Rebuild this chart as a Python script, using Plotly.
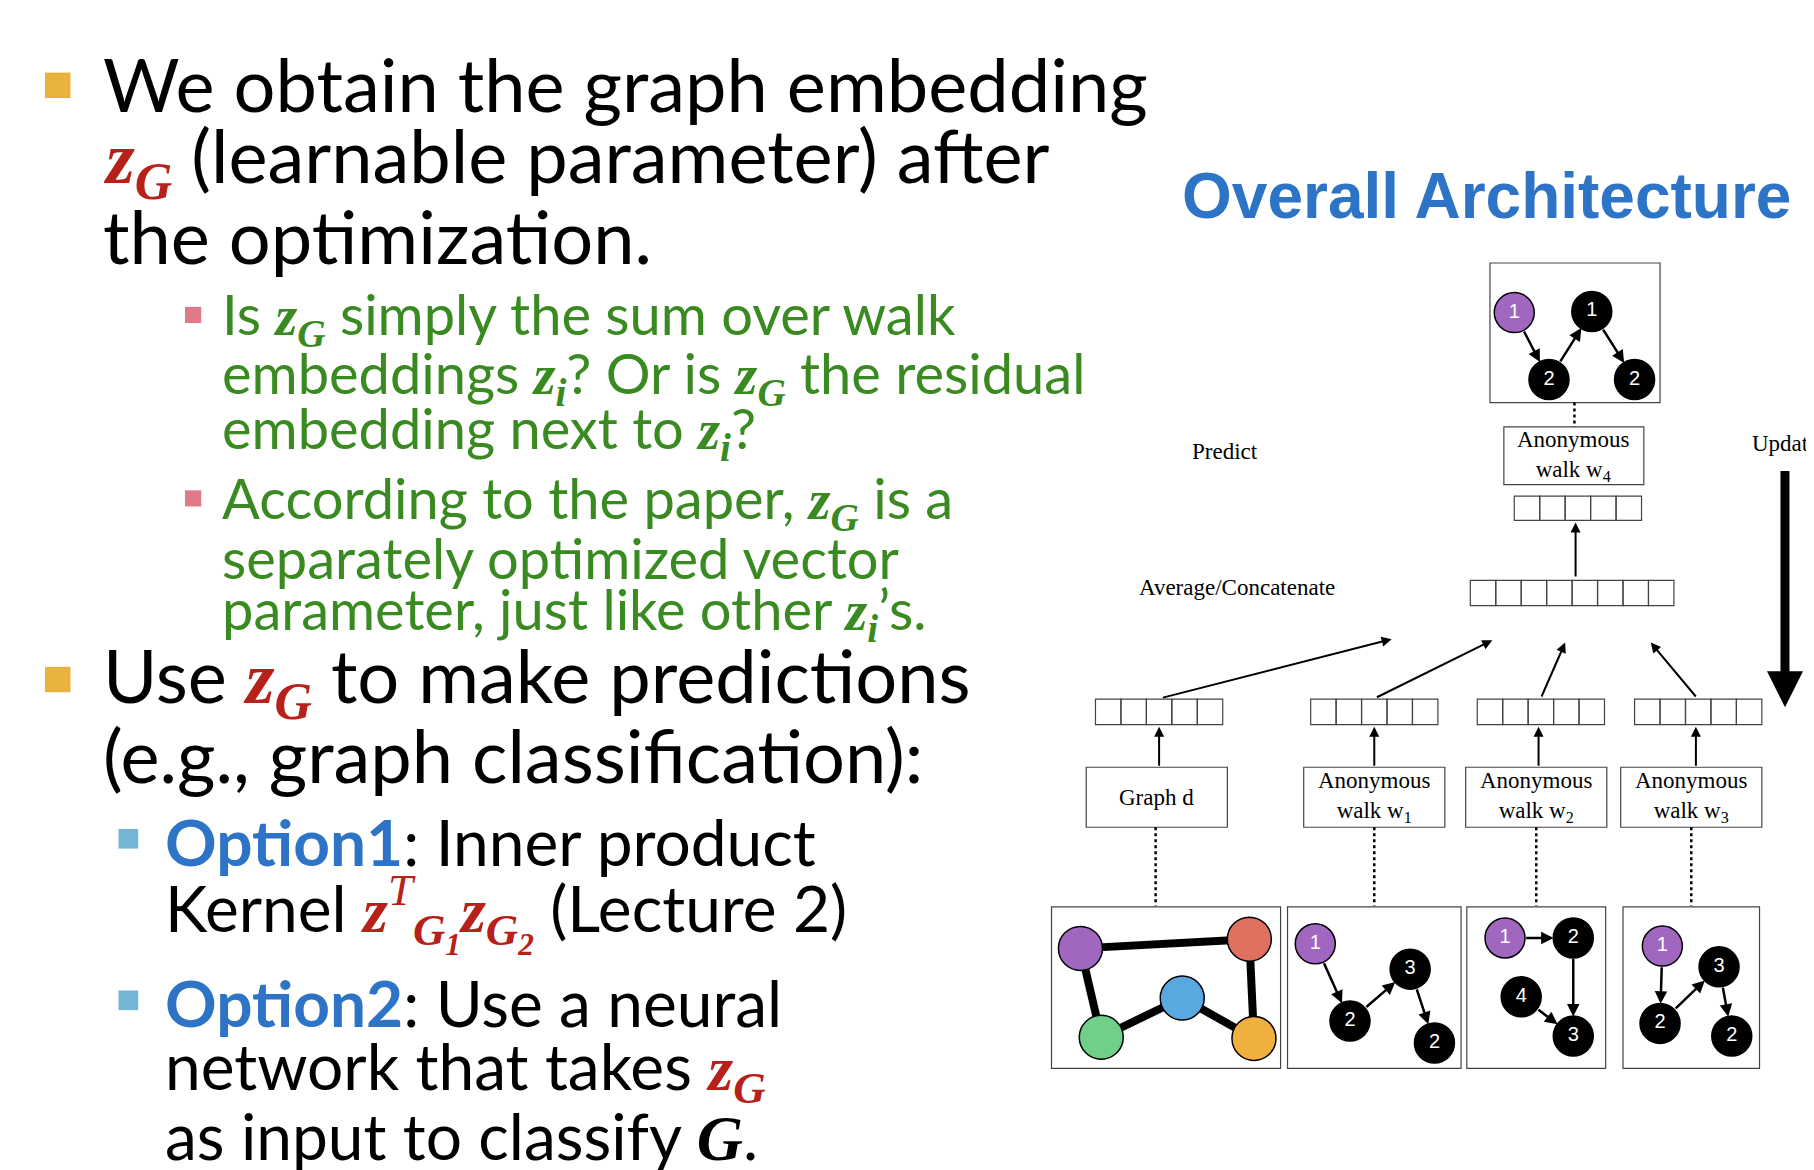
import plotly.graph_objects as go

# ---- slide text (x, y in slide units, text) ----
RED = "#B8201A"
GREEN = "#3A8A22"
BLUE = "#2E74C6"
SANS = "Lato"
MATH = "Liberation Serif"


def z(sub, color=RED, sup=""):
    s = f"<span style='font-family:{MATH};color:{color}'><b><i>z</i></b>"
    if sup:
        s += f"<sup><i>{sup}</i></sup>"
    return s + f"<sub><b><i>{sub}</i></b></sub></span>"


main_lines = [
    (80, 65, "We obtain the graph embedding"),
    (80, 132, z("G") + " (learnable parameter) after"),
    (80, 197, "the optimization."),
    (80, 582, "Use " + z("G") + " to make predictions"),
    (80, 647, "(e.g., graph classification):"),
]
green_lines = [
    (183, 268, "Is " + z("G", GREEN) + " simply the sum over walk"),
    (183, 319, "embeddings " + z("i", GREEN) + "? Or is " + z("G", GREEN) + " the residual"),
    (183, 367, "embedding next to " + z("i", GREEN) + "?"),
    (183, 428, "According to the paper, " + z("G", GREEN) + " is a"),
    (183, 476, "separately optimized vector"),
    (183, 524, "parameter, just like other " + z("i", GREEN) + "\u2019s."),
]
option_lines = [
    (134, 722, f"<b><span style='color:{BLUE}'>Option1</span></b>: Inner product"),
    (134, 785, "Kernel " + z("G<sub>1</sub>", sup="T") + z("G<sub>2</sub>") + " (Lecture 2)"),
    (134, 862, f"<b><span style='color:{BLUE}'>Option2</span></b>: Use a neural"),
    (134, 920, "network that takes " + z("G")),
    (134, 977, f"as input to classify <span style='font-family:{MATH}'><b><i>G</i></b></span>."),
]
bullets = [(43, 67, "#E8B23C", 22), (43, 582, "#E8B23C", 22),
           (160, 266, "#E07A88", 14), (160, 425, "#E07A88", 14),
           (104, 720, "#74B4D4", 17), (104, 860, "#74B4D4", 17)]

# ---- diagram ----
label_boxes = [  # x0, x1, y0, y1, label
    (1293, 1414, 363, 413, "Anonymous<br>walk w<sub>4</sub>"),
    (932, 1054, 658, 710, "Graph d"),
    (1120, 1242, 658, 710, "Anonymous<br>walk w<sub>1</sub>"),
    (1260, 1382, 658, 710, "Anonymous<br>walk w<sub>2</sub>"),
    (1394, 1516, 658, 710, "Anonymous<br>walk w<sub>3</sub>"),
]
vectors = [  # x0, x1, y0, y1, cells
    (1302, 1412, 423, 444, 5), (1264, 1440, 496, 518, 8),
    (940, 1050, 599, 621, 5), (1126, 1236, 599, 621, 5),
    (1270, 1380, 599, 621, 5), (1406, 1516, 599, 621, 5),
]
panels = [(1281, 1428, 221, 342), (902, 1100, 779, 919), (1106, 1256, 779, 919),
          (1261, 1381, 779, 919), (1396, 1514, 779, 919)]  # x0, x1, y0, y1
dotted = [(1354, 342, 363), (992, 710, 778), (1181, 710, 778), (1321, 710, 778), (1455, 710, 778)]
arrows = [  # tail x, y, head x, y
    (1355, 494, 1355, 446), (997, 598, 1196, 547), (1182, 598, 1283, 548),
    (1325, 598, 1346, 550), (1460, 598, 1420, 550),
    (995, 658, 995, 623), (1181, 658, 1181, 623), (1323, 658, 1323, 623), (1459, 658, 1459, 623),
]
# walk graphs: nodes (x, y, color, label) and directed edges
PUR, BLK = "#A167C0", "#000000"
walks = [
    ([(1302, 264, PUR, "1"), (1369, 263, BLK, "1"), (1332, 322, BLK, "2"), (1406, 322, BLK, "2")],
     [(0, 2), (2, 1), (1, 3)]),
    ([(1130, 811, PUR, "1"), (1212, 833, BLK, "3"), (1160, 878, BLK, "2"), (1233, 897, BLK, "2")],
     [(0, 2), (2, 1), (1, 3)]),
    ([(1294, 806, PUR, "1"), (1353, 806, BLK, "2"), (1353, 891, BLK, "3"), (1308, 857, BLK, "4")],
     [(0, 1), (1, 2), (3, 2)]),
    ([(1430, 813, PUR, "1"), (1479, 831, BLK, "3"), (1428, 880, BLK, "2"), (1490, 891, BLK, "2")],
     [(0, 2), (2, 1), (1, 3)]),
]
g_nodes = [(927, 815, "#A167C0"), (1073, 807, "#E07060"), (1015, 858, "#5AA8E0"),
           (945, 892, "#70D08A"), (1077, 893, "#F0B040")]
g_edges = [(0, 1), (0, 3), (3, 2), (2, 4), (1, 4)]

fig = go.Figure()
shapes, anns = [], []

for x, y, c, s in bullets:
    shapes.append(dict(type="rect", x0=x - s / 2, x1=x + s / 2, y0=y - s / 2, y1=y + s / 2,
                       fillcolor=c, line_width=0))
for lines, size, color in [(main_lines, 74, "#000"), (green_lines, 56, GREEN), (option_lines, 64, "#000")]:
    for x, y, t in lines:
        anns.append(dict(x=x, y=y, text=t, xanchor="left", yanchor="middle", showarrow=False,
                         font=dict(family=SANS, size=size, color=color)))

anns.append(dict(x=1278, y=163, text="<b>Overall Architecture</b>", showarrow=False,
                 font=dict(family="Liberation Sans", size=64, color=BLUE)))
serif = dict(family=MATH, size=23, color="#000")
for x, y, t in [(1052, 384, "Predict"), (1062, 502, "Average/Concatenate")]:
    anns.append(dict(x=x, y=y, text=t, showarrow=False, font=serif))
anns.append(dict(x=1566, y=377, text="Update", xanchor="right", showarrow=False, font=serif))

for x0, x1, y0, y1 in panels:
    shapes.append(dict(type="rect", x0=x0, x1=x1, y0=y0, y1=y1, layer="below",
                       line=dict(color="#444", width=1.2)))
for x0, x1, y0, y1, t in label_boxes:
    shapes.append(dict(type="rect", x0=x0, x1=x1, y0=y0, y1=y1, line=dict(color="#444", width=1.2)))
    anns.append(dict(x=(x0 + x1) / 2, y=(y0 + y1) / 2, text=t, showarrow=False, font=serif))
for x0, x1, y0, y1, n in vectors:
    w = (x1 - x0) / n
    for i in range(n):
        shapes.append(dict(type="rect", x0=x0 + i * w, x1=x0 + (i + 1) * w, y0=y0, y1=y1,
                           line=dict(color="#444", width=1.2)))
for x, y0, y1 in dotted:
    shapes.append(dict(type="line", x0=x, x1=x, y0=y0, y1=y1, line=dict(color="#000", width=2.5, dash="dot")))
for ax, ay, x, y in arrows:
    anns.append(dict(x=x, y=y, ax=ax, ay=ay, xref="x", yref="y", axref="x", ayref="y", text="",
                     showarrow=True, arrowhead=2, arrowsize=1, arrowwidth=2, arrowcolor="#000"))
# update arrow
anns.append(dict(x=1536, y=606, ax=1536, ay=400, xref="x", yref="y", axref="x", ayref="y", text="",
                 showarrow=True, arrowhead=2, arrowsize=0.8, arrowwidth=9, arrowcolor="#000"))

R = 17
for nodes, edges in walks:
    for a, b in edges:
        xa, ya = nodes[a][:2]
        xb, yb = nodes[b][:2]
        d = ((xb - xa) ** 2 + (yb - ya) ** 2) ** 0.5
        ux, uy = (xb - xa) / d, (yb - ya) / d
        anns.append(dict(x=xb - ux * R, y=yb - uy * R, ax=xa + ux * R, ay=ya + uy * R,
                         xref="x", yref="y", axref="x", ayref="y", text="", showarrow=True,
                         arrowhead=2, arrowsize=1, arrowwidth=2.5, arrowcolor="#000"))
    fig.add_trace(go.Scatter(x=[n[0] for n in nodes], y=[n[1] for n in nodes], mode="markers+text",
                             text=[n[3] for n in nodes], textfont=dict(family="Liberation Sans", size=20, color="white"),
                             marker=dict(size=40, color=[n[2] for n in nodes], line=dict(color="#000", width=1.5)),
                             hoverinfo="skip"))

for a, b in g_edges:
    shapes.append(dict(type="line", x0=g_nodes[a][0], y0=g_nodes[a][1], x1=g_nodes[b][0], y1=g_nodes[b][1],
                       layer="below", line=dict(color="#000", width=8)))
fig.add_trace(go.Scatter(x=[n[0] for n in g_nodes], y=[n[1] for n in g_nodes], mode="markers",
                         marker=dict(size=44, color=[n[2] for n in g_nodes], line=dict(color="#000", width=1.5)),
                         hoverinfo="skip"))

fig.update_layout(width=1814, height=1170, margin=dict(l=0, r=0, t=0, b=0), showlegend=False,
                  plot_bgcolor="white", paper_bgcolor="white", shapes=shapes, annotations=anns)
fig.update_xaxes(range=[0, 1568], visible=False)
fig.update_yaxes(range=[1014, 0], visible=False)
fig.write_html("out.html")
